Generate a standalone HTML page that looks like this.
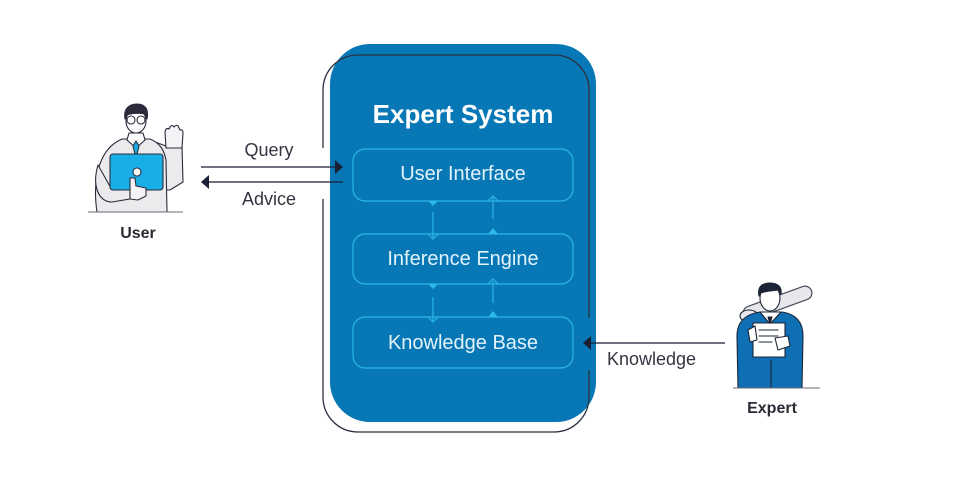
<!DOCTYPE html>
<html>
<head>
<meta charset="utf-8">
<style>
html,body{margin:0;padding:0;background:#fff;}
body{width:959px;height:479px;overflow:hidden;}
svg{display:block;}
text{font-family:"Liberation Sans",sans-serif;}
</style>
</head>
<body>
<svg width="959" height="479" viewBox="0 0 959 479" xmlns="http://www.w3.org/2000/svg">
  <!-- main blue panel -->
  <rect x="330" y="44" width="266" height="378" rx="40" ry="40" fill="#0777b5"/>
  <!-- outline with gaps -->
  <path d="M323,148 L323,90 A35,35 0 0 1 358,55 L554,55 A35,35 0 0 1 589,90 L589,318 M589,370 L589,397 A35,35 0 0 1 554,432 L358,432 A35,35 0 0 1 323,397 L323,199" fill="none" stroke="#2a3142" stroke-width="1.3"/>

  <text x="463" y="123" text-anchor="middle" font-size="26" font-weight="bold" fill="#ffffff">Expert System</text>

  <!-- inner boxes -->
  <g fill="none" stroke="#2cb6e9" stroke-width="1.2">
    <rect x="353" y="149" width="220" height="52" rx="12"/>
    <rect x="353" y="234" width="220" height="50" rx="12"/>
    <rect x="353" y="317" width="220" height="51" rx="12"/>
    <!-- connectors UI -> IE -->
    <line x1="433" y1="212" x2="433" y2="238"/>
    <polyline points="428,234 433,239 438,234"/>
    <line x1="493" y1="197" x2="493" y2="219"/>
    <polyline points="488,201 493,196 498,201"/>
    <!-- connectors IE -> KB -->
    <line x1="433" y1="297" x2="433" y2="321"/>
    <polyline points="428,317 433,322 438,317"/>
    <line x1="493" y1="281" x2="493" y2="303"/>
    <polyline points="488,284 493,279 498,284"/>
  </g>
  <g fill="#2cb6e9">
    <polygon points="428,201 438,201 433,206"/>
    <polygon points="488,234 498,234 493,228"/>
    <polygon points="428,284 438,284 433,289"/>
    <polygon points="488,317 498,317 493,311"/>
  </g>

  <g font-size="20" fill="#e2f3fb" text-anchor="middle">
    <text x="463" y="180">User Interface</text>
    <text x="463" y="265">Inference Engine</text>
    <text x="463" y="349">Knowledge Base</text>
  </g>

  <!-- arrows -->
  <g stroke="#1b1f33" stroke-width="1.3">
    <line x1="201" y1="167" x2="337" y2="167"/>
    <line x1="208" y1="182" x2="343" y2="182"/>
    <line x1="590" y1="343" x2="725" y2="343"/>
  </g>
  <g fill="#1b1f33">
    <polygon points="335,160 343,167 335,174"/>
    <polygon points="209,175 201,182 209,189"/>
    <polygon points="591,336 583,343 591,350"/>
  </g>
  <g font-size="18" fill="#333640">
    <text x="269" y="156" text-anchor="middle">Query</text>
    <text x="269" y="205" text-anchor="middle">Advice</text>
    <text x="607" y="365">Knowledge</text>
  </g>

  <!-- User figure -->
  <g stroke="#2b2b3b" stroke-width="1.1" stroke-linejoin="round" stroke-linecap="round">
    <!-- right sleeve / forearm -->
    <path d="M155,142 L166,146 L182,146 L183,182 L170,190 L162,190 Z" fill="#ebebee"/>
    <!-- raised hand -->
    <path d="M166,148 L165,132 Q166,127 169,129 L170,127 Q172,124 174,127 L175,126 Q178,124 179,128 L180,130 Q183,129 183,133 L182,148 Z" fill="#f4f4f6"/>
    <!-- torso -->
    <path d="M97,212 C93,185 96,150 122,139 L150,139 C160,143 164,150 166,160 L167,212 Z" fill="#ebebee"/>
    <!-- collar -->
    <path d="M127,140 L136,148 L145,140 L143,133 L129,133 Z" fill="#ffffff"/>
    <!-- tie -->
    <path d="M136,141 L133,146 L136,158 L139,146 Z" fill="#1aaee6"/>
    <!-- head -->
    <ellipse cx="136" cy="121" rx="10" ry="12" fill="#ffffff"/>
    <path d="M125,119 C123,108 130,104 137,104 C145,104 149,109 147,119 L145,114 C140,113 132,113 127,115 Z" fill="#2b2b3b"/>
    <circle cx="131" cy="120" r="4" fill="#ffffff"/>
    <circle cx="141" cy="120" r="4" fill="#ffffff"/>
    <!-- left arm -->
    <path d="M98,165 C92,185 98,202 112,202 L130,199 L130,189 L112,190 Z" fill="#ebebee"/>
    <!-- laptop -->
    <rect x="110" y="154" width="53" height="36" rx="3" fill="#1aaee6"/>
    <circle cx="137" cy="172" r="4" fill="#ffffff"/>
    <!-- hand -->
    <path d="M130,178 L135,178 L136,186 L146,188 L146,196 L138,200 L130,199 Z" fill="#f4f4f6"/>
  </g>
  <line x1="88" y1="212" x2="183" y2="212" stroke="#6b6b78" stroke-width="1"/>
  <text x="138" y="238" text-anchor="middle" font-size="16" font-weight="bold" fill="#2a2a35">User</text>

  <!-- Expert figure -->
  <g stroke="#1d2535" stroke-width="1.1" stroke-linejoin="round" stroke-linecap="round">
    <!-- stick -->
    <line x1="750" y1="313" x2="805" y2="293" stroke="#4a4f5c" stroke-width="15"/>
    <line x1="750" y1="313" x2="805" y2="293" stroke="#e8e8ec" stroke-width="12.5"/>
    <ellipse cx="749" cy="316" rx="9" ry="6" fill="#e8e8ec"/>
    <!-- body -->
    <path d="M738,388 L737,336 C737,320 747,314 760,312 L782,312 C796,314 803,322 803,336 L802,388 Z" fill="#0f6fb4"/>
    <!-- collar/shirt -->
    <path d="M760,312 L770,324 L781,312 Z" fill="#ffffff"/>
    <path d="M768,317 L770,324 L772,317 Z" fill="#1d2535"/>
    <!-- head -->
    <ellipse cx="770" cy="298" rx="10" ry="13" fill="#ffffff"/>
    <path d="M759,296 C757,286 763,283 770,283 C778,283 782,287 781,294 L778,290 C772,291 766,291 761,293 Z" fill="#1d2535"/>
    <!-- paper -->
    <rect x="753" y="323" width="32" height="34" fill="#ffffff"/>
    <line x1="759" y1="330" x2="778" y2="330"/>
    <line x1="759" y1="336" x2="778" y2="336"/>
    <line x1="759" y1="342" x2="772" y2="342"/>
    <!-- hands -->
    <path d="M775,338 L788,336 L790,346 L778,350 Z" fill="#ffffff"/>
    <path d="M748,330 L755,326 L757,340 L750,342 Z" fill="#ffffff"/>
    <!-- legs -->
    <line x1="771" y1="360" x2="771" y2="388"/>
  </g>
  <line x1="733" y1="388" x2="820" y2="388" stroke="#6b6b78" stroke-width="1"/>
  <text x="772" y="413" text-anchor="middle" font-size="16" font-weight="bold" fill="#2a2a35">Expert</text>
</svg>
</body>
</html>
